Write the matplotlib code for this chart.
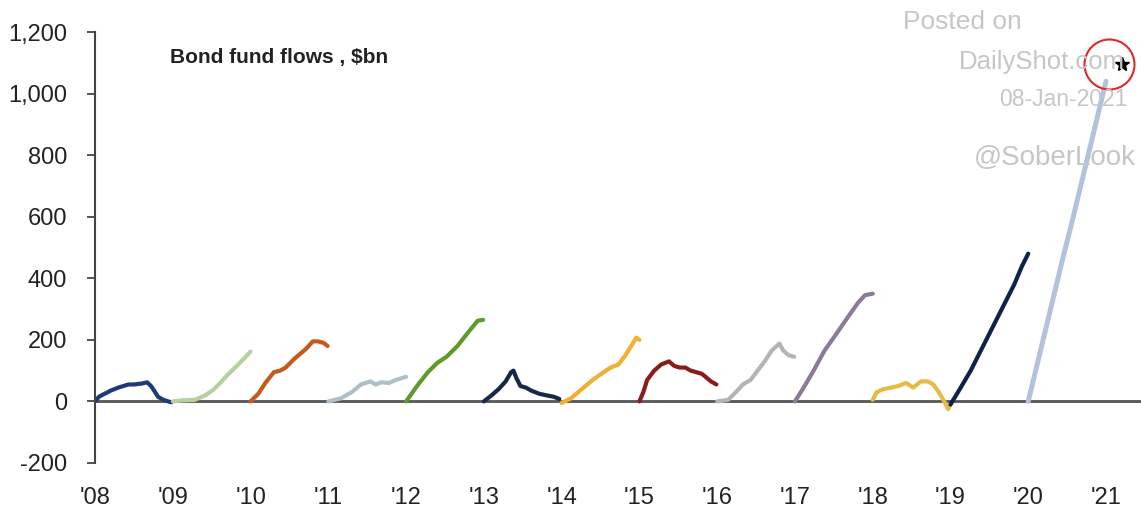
import matplotlib.pyplot as plt

# fraction of the year elapsed, and year-to-date bond fund flows ($bn)
t_2008 = [0, 0.05, 0.1, 0.15, 0.2, 0.3, 0.43, 0.5, 0.6, 0.67, 0.72, 0.76, 0.81, 0.88, 0.98]
v_2008 = [0, 15, 22, 28, 35, 45, 55, 55, 58, 62, 50, 35, 15, 5, -3]
t_2009 = [0, 0.1, 0.28, 0.42, 0.52, 0.61, 0.7, 0.8, 0.9, 1.0]
v_2009 = [0, 3, 5, 20, 38, 60, 85, 110, 135, 162]
t_2010 = [0, 0.1, 0.19, 0.3, 0.38, 0.45, 0.57, 0.71, 0.8, 0.87, 0.94, 0.99]
v_2010 = [0, 25, 60, 95, 100, 110, 140, 170, 195, 195, 190, 180]
t_2011 = [0, 0.16, 0.3, 0.42, 0.54, 0.61, 0.68, 0.78, 0.87, 1.0]
v_2011 = [0, 10, 30, 55, 65, 55, 62, 60, 70, 80]
t_2012 = [0, 0.14, 0.28, 0.4, 0.52, 0.66, 0.8, 0.92, 0.99]
v_2012 = [0, 50, 95, 125, 145, 180, 225, 262, 265]
t_2013 = [0, 0.1, 0.19, 0.28, 0.35, 0.38, 0.42, 0.47, 0.54, 0.61, 0.71, 0.8, 0.9, 0.97]
v_2013 = [0, 20, 40, 65, 95, 100, 75, 50, 45, 35, 25, 20, 15, 8]
t_2014 = [0, 0.12, 0.26, 0.4, 0.54, 0.63, 0.73, 0.82, 0.92, 0.96, 1.0]
v_2014 = [-5, 10, 40, 70, 95, 110, 120, 150, 190, 207, 200]
t_2015 = [0, 0.05, 0.1, 0.19, 0.28, 0.38, 0.45, 0.52, 0.59, 0.66, 0.73, 0.8, 0.85, 0.92, 0.99]
v_2015 = [0, 30, 70, 100, 120, 130, 115, 110, 110, 100, 95, 90, 80, 65, 55]
t_2016 = [0, 0.14, 0.24, 0.33, 0.43, 0.52, 0.61, 0.7, 0.8, 0.85, 0.92, 0.99]
v_2016 = [0, 5, 30, 55, 70, 100, 130, 165, 188, 165, 150, 145]
t_2017 = [0, 0.1, 0.24, 0.38, 0.52, 0.67, 0.81, 0.9, 1.0]
v_2017 = [0, 40, 100, 165, 215, 270, 320, 345, 350]
t_2018 = [0, 0.05, 0.14, 0.24, 0.33, 0.43, 0.52, 0.62, 0.71, 0.78, 0.85, 0.92, 0.97, 1.0]
v_2018 = [5, 30, 40, 45, 50, 60, 45, 65, 65, 55, 30, 0, -25, -10]
t_2019 = [0, 0.12, 0.26, 0.4, 0.54, 0.68, 0.82, 0.92, 1.0]
v_2019 = [-10, 40, 100, 170, 240, 310, 380, 440, 480]
t_2020 = [0, 0.11, 0.22, 0.33, 0.44, 0.56, 0.67, 0.78, 0.89, 1.0]
v_2020 = [0, 115, 230, 345, 460, 580, 695, 810, 925, 1040]

years = list(range(2008, 2021))
series_t = [t_2008, t_2009, t_2010, t_2011, t_2012, t_2013, t_2014,
            t_2015, t_2016, t_2017, t_2018, t_2019, t_2020]
series_v = [v_2008, v_2009, v_2010, v_2011, v_2012, v_2013, v_2014,
            v_2015, v_2016, v_2017, v_2018, v_2019, v_2020]
colors = ["#1f3a7a", "#b8cfa0", "#c55a1e", "#aebfc8", "#5f9a2c", "#17284a", "#f0b032",
          "#8c1c1c", "#b4b4b4", "#8c7b98", "#e3bb45", "#0f2248", "#b3c2dc"]

latest_x = 2021.2
latest_v = 1095

tick_years = list(range(2008, 2022))
tick_labels = ["'%02d" % (y % 100) for y in tick_years]

plt.rcParams["font.family"] = ["Liberation Sans", "DejaVu Sans"]

fig = plt.figure(figsize=(11.41, 5.13), dpi=100)
ax = fig.add_axes([0.0833, 0.0975, 0.9167, 0.8401])

ax.axhline(0, color="#555555", lw=2, zorder=1)

for yr, ts, vs, c in zip(years, series_t, series_v, colors):
    lw = 3.6 if yr == 2020 else 3.0
    ax.plot([yr + t for t in ts], vs, color=c, lw=lw, solid_capstyle="round", zorder=2)

ax.plot(latest_x, latest_v, marker="*", color="black", ms=10, zorder=4)
ax.plot(latest_x - 0.16, latest_v, marker="o", ms=36, mfc="none", mec="#e0282a", mew=1.5, zorder=4)

ax.set_xlim(2008, 2021.45)
ax.set_ylim(-200, 1200)
ax.set_yticks(range(-200, 1201, 200))
ax.set_yticklabels([f"{v:,}" for v in range(-200, 1201, 200)])
ax.set_xticks(tick_years)
ax.set_xticklabels(tick_labels)

for side in ["top", "right", "bottom"]:
    ax.spines[side].set_visible(False)
ax.spines["left"].set_color("#444444")
ax.spines["left"].set_linewidth(1.5)
ax.tick_params(axis="y", length=6, width=1.3, color="#444444", labelsize=17, labelcolor="#222222", pad=14)
ax.tick_params(axis="x", length=0, labelsize=17, labelcolor="#222222", pad=17)

ax.text(0.072, 0.963, "Bond fund flows , $bn", transform=ax.transAxes, fontsize=15,
        fontweight="bold", color="#222222", va="top")

wm = "#c6c6c6"
fig.text(903 / 1141, 1 - 22 / 513, "Posted on", fontsize=19, color=wm, va="center")
fig.text(1125 / 1141, 1 - 62 / 513, "DailyShot.com", fontsize=18.5, color=wm, va="center", ha="right")
fig.text(1127 / 1141, 1 - 100 / 513, "08-Jan-2021", fontsize=16.5, color=wm, va="center", ha="right")
fig.text(1136 / 1141, 1 - 158 / 513, "@SoberLook", fontsize=20, color=wm, va="center", ha="right")

fig.savefig("out.png", dpi=100)
